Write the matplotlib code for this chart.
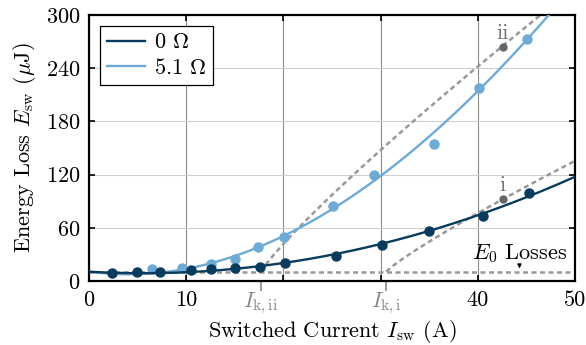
import numpy as np
import matplotlib
matplotlib.use("Agg")
import matplotlib.pyplot as plt

plt.rcParams.update({
    "font.family": "serif",
    "font.serif": ["cmr10"],
    "mathtext.fontset": "cm",
    "axes.formatter.use_mathtext": True,
    "font.size": 16,
})

# ── measured switching energy ────────────────────────────────────────────────
i_0r = [2.4, 4.9, 7.3, 10.5, 12.5, 15.0, 17.6, 20.2, 25.4, 30.2, 35.0, 40.5, 45.3]
e_0r = [9.4, 10.5, 10.5, 12.4, 13.5, 14.7, 16.1, 20.6, 28.2, 40.9, 56.0, 73.3, 98.9]

i_51r = [6.5, 9.6, 12.5, 15.0, 17.4, 20.1, 25.1, 29.35, 35.5, 40.1, 45.1]
e_51r = [13.2, 15.0, 19.2, 24.5, 38.0, 49.3, 84.9, 119.5, 154.2, 217.3, 272.6]

# polynomial fits (highest order first)
fit_0r = [0.055, -0.61, 10.5]
fit_51r = [-0.000478, 0.1826, -1.451, 10.5]

# knee model: E = E0 + k * (I - I_k)^n
E0 = 10.5
I_k = {"i": 30.6, "ii": 17.7}
k_knee = {"i": 9.19, "ii": 15.06}
n_knee = 0.88
pts_i = [42.56, 92.1]
pts_ii = [42.6, 264.2]

c_dark = "#083b5c"
c_light = "#6eaad6"
c_dash = "#999999"
dash = (0, (2.0, 1.4))

fig = plt.figure(figsize=(5.86, 3.45), dpi=100)
ax = fig.add_axes([0.152, 0.1855, 0.829, 0.771])

# E0 floor + knee lines
ax.plot([0, 50], [E0, E0], color=c_dash, lw=1.8, ls=dash, zorder=2)
for key in ("i", "ii"):
    xx = np.linspace(I_k[key], 50, 200)
    ax.plot(xx, E0 + k_knee[key] * (xx - I_k[key]) ** n_knee,
            color=c_dash, lw=1.8, ls=dash, zorder=2)

xs = np.linspace(0, 50, 300)
ax.plot(xs, np.polyval(fit_51r, xs), color=c_light, lw=1.7, zorder=3, label=r"5.1 $\Omega$")
ax.plot(i_51r, e_51r, "o", color=c_light, ms=6.5, zorder=3)
ax.plot(xs, np.polyval(fit_0r, xs), color=c_dark, lw=1.7, zorder=4, label=r"0 $\Omega$")
ax.plot(i_0r, e_0r, "o", color=c_dark, ms=6.5, zorder=4)

for p, lab in ((pts_i, "i"), (pts_ii, "ii")):
    ax.plot(p[0], p[1], "o", color="#666666", ms=5, zorder=5)
    ax.annotate(lab, xy=(p[0], p[1]), xytext=(0, 3), textcoords="offset points",
                ha="center", va="bottom", color="#777777")

ax.text(44.3, 25, r"$E_0$ Losses", ha="center", va="baseline")
ax.annotate("", xy=(44.3, E0 + 0.5), xytext=(44.3, 21),
            arrowprops=dict(arrowstyle="-|>", color="black", lw=0.8, mutation_scale=6))

ax.set_xlim(0, 50)
ax.set_ylim(0, 300)
ax.set_xticks([0, 10, 20, 30, 40, 50])
ax.set_xticklabels(["0", "10", "", "", "40", "50"])
ax.set_yticks([0, 60, 120, 180, 240, 300])
ax.set_xticks([I_k["ii"], I_k["i"]], minor=True)
ax.set_xticklabels([r"$I_{\rm k,ii}$", r"$I_{\rm k,i}$"], minor=True)

ax.tick_params(which="major", direction="in", top=True, right=True,
               length=4, width=1.2, labelsize=16)
ax.tick_params(axis="x", which="major", pad=7)
ax.tick_params(axis="y", which="major", pad=6)
ax.tick_params(axis="x", which="minor", direction="out", top=False,
               length=7, width=1.2, color="#888888", labelcolor="#888888",
               pad=0, labelsize=16)
ax.tick_params(axis="y", which="minor", left=False, right=False)

ax.grid(axis="x", color="#8c8c8c", lw=0.8)
ax.grid(axis="y", color="#cfcfcf", lw=0.8)
ax.set_axisbelow(True)
for s in ax.spines.values():
    s.set_linewidth(1.6)

ax.set_xlabel(r"Switched Current $I_{\rm sw}$ (A)", labelpad=1)
ax.set_ylabel(r"Energy Loss $E_{\rm sw}$ ($\mu$J)", labelpad=6)

h, l = ax.get_legend_handles_labels()
leg = ax.legend(h[::-1], l[::-1], loc="upper left", borderaxespad=0.5,
                fancybox=False, framealpha=1, edgecolor="black",
                handlelength=1.7, handletextpad=0.4, borderpad=0.3,
                labelspacing=0.25)
leg.get_frame().set_linewidth(0.9)

fig.savefig("out.png", dpi=100)
